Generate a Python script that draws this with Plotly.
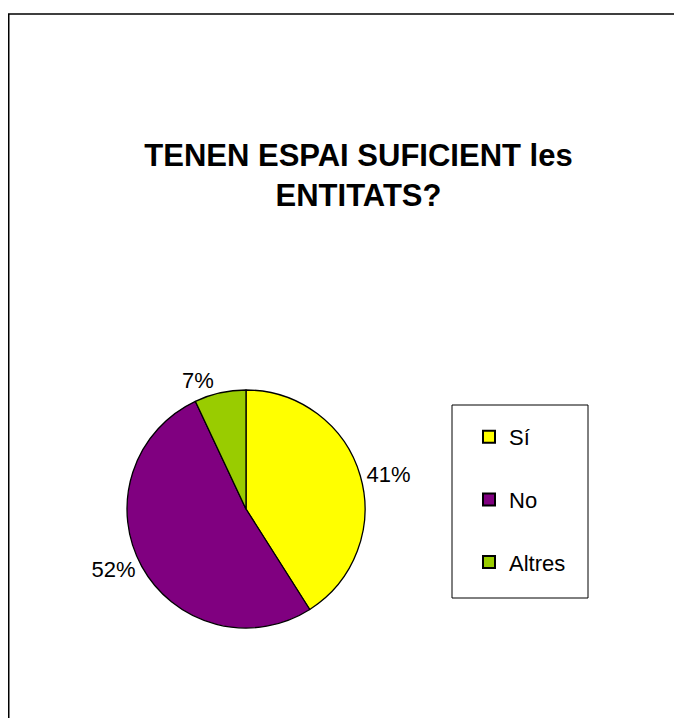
import plotly.graph_objects as go

categories = ["Sí", "No", "Altres"]
values = [41, 52, 7]
colors = ["#FFFF00", "#800080", "#99CC00"]
title_text = "TENEN ESPAI SUFICIENT les<br>ENTITATS?"

# the page places the figure 8px from the top-left corner
OFF = 8
W, H = 682 - OFF, 718 - OFF
FONT = "Liberation Sans, Arial, sans-serif"


def px(x):
    return (x - OFF) / W


def py(y):
    return 1 - (y - OFF) / H


fig = go.Figure()

fig.add_trace(go.Pie(
    labels=categories,
    values=values,
    marker=dict(colors=colors, line=dict(color="black", width=1.3)),
    sort=False,
    direction="clockwise",
    rotation=0,
    texttemplate="%{percent:.0%}",
    textposition="outside",
    outsidetextfont=dict(family=FONT, size=22, color="black"),
    showlegend=False,
    domain=dict(x=[px(127), px(365)], y=[py(628), py(390)]),
    hoverinfo="label+percent",
))

# legend entries
for c, col in zip(categories, colors):
    fig.add_trace(go.Scatter(
        x=[None], y=[None], mode="markers", name=c,
        marker=dict(symbol="square", size=11, color=col, line=dict(color="black", width=1)),
        legendgroup=c, showlegend=True,
    ))

title_size = 31
fig.update_layout(
    width=W, height=H,
    margin=dict(l=0, r=0, t=0, b=0),
    paper_bgcolor="white",
    plot_bgcolor="white",
    xaxis=dict(visible=False),
    yaxis=dict(visible=False),
    title=dict(
        text="<b>" + title_text + "</b>",
        x=px(358.5), xanchor="center",
        y=py(166), yanchor="top",
        font=dict(family=FONT, size=title_size, color="black"),
    ),
    legend=dict(
        x=px(451), y=py(416), xanchor="left", yanchor="top",
        borderwidth=0, bgcolor="rgba(0,0,0,0)",
        font=dict(family=FONT, size=22, color="black"),
        tracegroupgap=31,
        indentation=18,
        itemsizing="constant",
    ),
    shapes=[
        dict(type="rect", xref="paper", yref="paper",
             x0=0.75 / W, x1=1.05, y0=-0.05, y1=py(14),
             line=dict(color="black", width=1.5)),
        dict(type="rect", xref="paper", yref="paper",
             x0=px(452), x1=px(588), y0=py(598), y1=py(405),
             line=dict(color="black", width=1)),
    ],
)

fig.write_html("out.html")
